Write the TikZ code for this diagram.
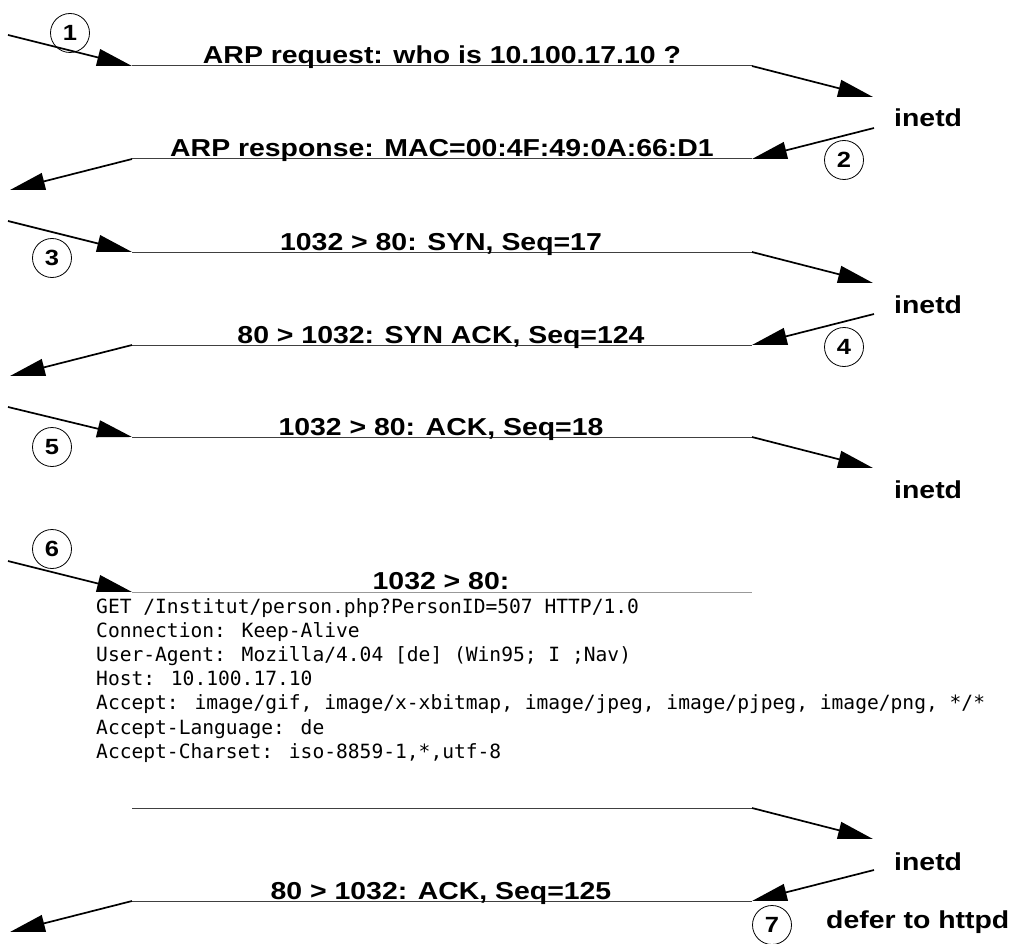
\documentclass[tikz,border=0pt]{standalone}
\usepackage{fontspec}
\setmainfont{Liberation Sans}
\newfontfamily\codefont{DejaVu Sans Mono}
\usetikzlibrary{arrows.meta}
\newcommand\widetext[1]{\scalebox{1.16}[1]{#1}}
\tikzset{
  msgline/.style={draw=black!75, line width=1pt},
  codeline/.style={draw=black!40, line width=1pt},
  arr/.style={draw=black, line width=1.7pt, -{Triangle[length=35pt,width=17pt]}},
  lbl/.style={font=\fontsize{24.5}{28}\selectfont\bfseries, inner sep=0pt, anchor=base},
  host/.style={font=\fontsize{24.5}{28}\selectfont\bfseries, inner sep=0pt, anchor=base west},
  stepnum/.style={draw=black, line width=0.8pt, circle, minimum size=39pt, inner sep=0pt,
                  font=\fontsize{22}{26}\selectfont\bfseries},
  code/.style={font=\codefont\fontsize{19.6}{24}\selectfont, inner sep=0pt, anchor=base west},
}
\begin{document}
\begin{tikzpicture}[x=1pt,y=-1pt]
\useasboundingbox (0,0) rectangle (1014,944);

% message 1: ARP request
\coordinate (s1) at (8,35);   \coordinate (a1) at (132,66);
\coordinate (b1) at (752,66); \coordinate (e1) at (873,97);
\draw[arr] (s1) -- (a1);
\draw[msgline] (a1) -- (b1);
\draw[arr] (b1) -- (e1);
\node[lbl] (t1) at (442,64) {\widetext{ARP request: who is 10.100.17.10 ?}};
\node[stepnum] (n1) at (70,33) {\widetext{1}};
\node[host] (h1) at (894,127) {\widetext{inetd}};

% message 2: ARP response
\coordinate (s2) at (874,128); \coordinate (b2) at (752,159);
\coordinate (a2) at (132,159); \coordinate (e2) at (10,190);
\draw[arr] (s2) -- (b2);
\draw[msgline] (b2) -- (a2);
\draw[arr] (a2) -- (e2);
\node[lbl] (t2) at (442,157) {\widetext{ARP response: MAC=00:4F:49:0A:66:D1}};
\node[stepnum] (n2) at (844,160) {\widetext{2}};

% message 3: SYN
\coordinate (s3) at (8,221);   \coordinate (a3) at (132,252);
\coordinate (b3) at (752,252); \coordinate (e3) at (873,283);
\draw[arr] (s3) -- (a3);
\draw[msgline] (a3) -- (b3);
\draw[arr] (b3) -- (e3);
\node[lbl] (t3) at (441,250) {\widetext{1032 > 80: SYN, Seq=17}};
\node[stepnum] (n3) at (52,258) {\widetext{3}};
\node[host] (h3) at (894,313) {\widetext{inetd}};

% message 4: SYN ACK
\coordinate (s4) at (874,314); \coordinate (b4) at (752,345);
\coordinate (a4) at (132,345); \coordinate (e4) at (10,376);
\draw[arr] (s4) -- (b4);
\draw[msgline] (b4) -- (a4);
\draw[arr] (a4) -- (e4);
\node[lbl] (t4) at (441,343) {\widetext{80 > 1032: SYN ACK, Seq=124}};
\node[stepnum] (n4) at (844,347) {\widetext{4}};

% message 5: ACK
\coordinate (s5) at (8,407);   \coordinate (a5) at (132,437);
\coordinate (b5) at (752,437); \coordinate (e5) at (873,468);
\draw[arr] (s5) -- (a5);
\draw[msgline] (a5) -- (b5);
\draw[arr] (b5) -- (e5);
\node[lbl] (t5) at (441,435) {\widetext{1032 > 80: ACK, Seq=18}};
\node[stepnum] (n5) at (52,447) {\widetext{5}};
\node[host] (h5) at (894,498) {\widetext{inetd}};

% message 6: HTTP request
\coordinate (s6) at (8,561);   \coordinate (a6) at (132,592);
\coordinate (b6) at (752,592);
\coordinate (c6) at (132,808); \coordinate (d6) at (752,808); \coordinate (e6) at (873,839);
\draw[arr] (s6) -- (a6);
\draw[codeline] (a6) -- (b6);
\draw[msgline] (c6) -- (d6);
\draw[arr] (d6) -- (e6);
\node[lbl] (t6) at (441,589) {\widetext{1032 > 80:}};
\node[stepnum] (n6) at (52,549) {\widetext{6}};
\node[code] (g1) at (96,613) {GET /Institut/person.php?PersonID=507 HTTP/1.0};
\node[code] (g2) at (96,637.2) {Connection: Keep-Alive};
\node[code] (g3) at (96,661.4) {User-Agent: Mozilla/4.04 [de] (Win95; I ;Nav)};
\node[code] (g4) at (96,685.6) {Host: 10.100.17.10};
\node[code] (g5) at (96,709.8) {Accept: image/gif, image/x-xbitmap, image/jpeg, image/pjpeg, image/png, */*};
\node[code] (g6) at (96,734) {Accept-Language: de};
\node[code] (g7) at (96,758.2) {Accept-Charset: iso-8859-1,*,utf-8};
\node[host] (h6) at (894,870) {\widetext{inetd}};

% message 7: final ACK
\coordinate (s7) at (874,870); \coordinate (b7) at (752,901);
\coordinate (a7) at (132,901); \coordinate (e7) at (10,932);
\draw[arr] (s7) -- (b7);
\draw[msgline] (b7) -- (a7);
\draw[arr] (a7) -- (e7);
\node[lbl] (t7) at (441,899) {\widetext{80 > 1032: ACK, Seq=125}};
\node[stepnum] (n7) at (772,925) {\widetext{7}};
\node[host] (d7) at (826,928) {\widetext{defer to httpd}};
\end{tikzpicture}
\end{document}
